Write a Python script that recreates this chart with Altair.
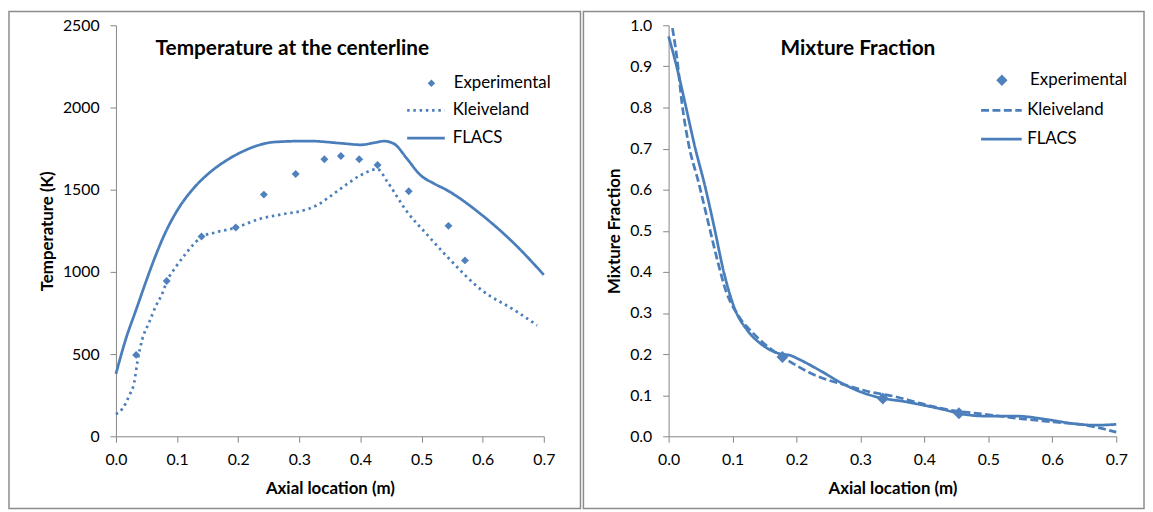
import altair as alt
import pandas as pd

# ---------------- data: left panel (temperature) ----------------
exp_T_x = [0.033, 0.083, 0.140, 0.196, 0.242, 0.294, 0.341, 0.368, 0.398, 0.428, 0.479, 0.544, 0.571]
exp_T_y = [495, 945, 1215, 1270, 1470, 1595, 1685, 1705, 1685, 1650, 1490, 1280, 1070]

kle_T_x = [0.0, 0.011, 0.022, 0.030, 0.035, 0.043, 0.054, 0.065, 0.076, 0.083, 0.098, 0.114,
           0.130, 0.141, 0.163, 0.197, 0.233, 0.271, 0.309, 0.331, 0.347, 0.369, 0.401, 0.428,
           0.444, 0.476, 0.509, 0.541, 0.598, 0.653, 0.689]
kle_T_y = [134, 170, 250, 330, 450, 590, 690, 790, 870, 940, 1030, 1110,
           1180, 1214, 1240, 1270, 1320, 1350, 1376, 1410, 1450, 1510, 1589, 1625,
           1548, 1367, 1227, 1096, 890, 765, 675]

flacs_T_x = [0.0, 0.016, 0.033, 0.049, 0.065, 0.081, 0.103, 0.125, 0.152, 0.179, 0.206, 0.233,
             0.260, 0.315, 0.369, 0.401, 0.422, 0.439, 0.455, 0.476, 0.498, 0.520, 0.541, 0.598,
             0.653, 0.700]
flacs_T_y = [380, 590, 770, 940, 1100, 1240, 1390, 1500, 1600, 1674, 1730, 1770,
             1790, 1796, 1782, 1773, 1785, 1795, 1779, 1689, 1589, 1538, 1498, 1348,
             1167, 982]

# ---------------- data: right panel (mixture fraction) ----------------
exp_F_x = [0.178, 0.335, 0.454]
exp_F_y = [0.193, 0.092, 0.056]

kle_F_x = [0.006, 0.013, 0.021, 0.031, 0.047, 0.062, 0.077, 0.090, 0.108, 0.134, 0.160, 0.178,
           0.200, 0.220, 0.240, 0.276, 0.312, 0.353, 0.394, 0.436, 0.498, 0.549, 0.601, 0.653, 0.700]
kle_F_y = [0.993, 0.921, 0.809, 0.713, 0.617, 0.520, 0.424, 0.352, 0.296, 0.248, 0.212, 0.193,
           0.172, 0.155, 0.142, 0.125, 0.109, 0.097, 0.080, 0.065, 0.053, 0.043, 0.035, 0.027, 0.010]

flacs_F_x = [0.0, 0.013, 0.026, 0.041, 0.057, 0.072, 0.085, 0.093, 0.103, 0.124, 0.145, 0.176,
             0.190, 0.203, 0.240, 0.271, 0.302, 0.333, 0.367, 0.394, 0.430, 0.456, 0.498, 0.544,
             0.591, 0.632, 0.667, 0.700]
flacs_F_y = [0.973, 0.897, 0.809, 0.705, 0.608, 0.504, 0.408, 0.360, 0.312, 0.256, 0.224, 0.200,
             0.197, 0.188, 0.157, 0.129, 0.107, 0.093, 0.085, 0.077, 0.065, 0.055, 0.049, 0.049,
             0.041, 0.031, 0.027, 0.029]

x_ticks = [0.0, 0.1, 0.2, 0.3, 0.4, 0.5, 0.6, 0.7]
T_ticks = [0, 500, 1000, 1500, 2000, 2500]
F_ticks = [0.0, 0.1, 0.2, 0.3, 0.4, 0.5, 0.6, 0.7, 0.8, 0.9, 1.0]

LINE = "#4A7EBB"
PT = "#4F81BD"
GRAY = "#868686"
FONT = "Lato"


def panel(exp_x, exp_y, kle_x, kle_y, fl_x, fl_y, y_ticks, y_fmt, y_domain, y_title,
          title, title_dx, width, height, dash, pt_size, leg_pt, leg_line, border):
    lines_df = pd.DataFrame({
        "x": kle_x + fl_x,
        "y": kle_y + fl_y,
        "series": ["Kleiveland"] * len(kle_x) + ["FLACS"] * len(fl_x),
    })
    exp_df = pd.DataFrame({"x": exp_x, "y": exp_y, "series": ["Experimental"] * len(exp_x)})

    xs = alt.Scale(domain=[0, 0.7], nice=False, zero=False)
    ys = alt.Scale(domain=y_domain, nice=False)
    xax = alt.Axis(values=x_ticks, format=".1f", title="Axial location (m)",
                   labelPadding=9, titlePadding=14, labelFlush=False)
    yax = alt.Axis(values=y_ticks, format=y_fmt, title=y_title,
                   labelPadding=11, titlePadding=6, labelFlush=False)

    bdf = pd.DataFrame({"k": [0]})
    frame = alt.Chart(bdf).mark_rect(fill="transparent", stroke="#8C8C8C", strokeWidth=1.5).encode(
        x=alt.value(border[0]), x2=alt.value(border[1]),
        y=alt.value(border[2]), y2=alt.value(border[3]))

    lines = alt.Chart(lines_df).mark_line(color=LINE, strokeWidth=2.75, interpolate="monotone").encode(
        x=alt.X("x:Q", scale=xs, axis=xax),
        y=alt.Y("y:Q", scale=ys, axis=yax),
        strokeDash=alt.StrokeDash(
            "series:N",
            scale=alt.Scale(domain=["Kleiveland", "FLACS"], range=[dash, [1, 0]]),
            legend=alt.Legend(title=None, orient="none", legendX=leg_line[0], legendY=leg_line[1],
                              symbolType="M-2,0L2,0", symbolSize=leg_line[2],
                              symbolStrokeWidth=2.75, symbolStrokeColor=LINE,
                              labelOffset=leg_line[3], rowPadding=9, padding=0),
        ),
    )

    pts = alt.Chart(exp_df).mark_point(filled=True, color=PT, size=pt_size, opacity=1,
                                       strokeWidth=0).encode(
        x=alt.X("x:Q", scale=xs),
        y=alt.Y("y:Q", scale=ys),
        shape=alt.Shape(
            "series:N",
            scale=alt.Scale(domain=["Experimental"], range=["diamond"]),
            legend=alt.Legend(title=None, orient="none", legendX=leg_pt[0], legendY=leg_pt[1],
                              symbolSize=leg_pt[2], symbolFillColor=PT, symbolStrokeWidth=0,
                              labelOffset=leg_pt[3], padding=0),
        ),
    )

    return alt.layer(frame, lines, pts).properties(
        width=width, height=height,
        title=alt.TitleParams(text=title, anchor="start", frame="group", dx=title_dx, dy=49,
                              offset=0, baseline="top", font=FONT, fontSize=21,
                              fontWeight="bold", color="black"),
    )


left = panel(exp_T_x, exp_T_y, kle_T_x, kle_T_y, flacs_T_x, flacs_T_y, T_ticks, "d", [0, 2500],
             "Temperature (K)", "Temperature at the centerline", 40, 432, 415,
             [2.5, 3.8], 64, (310, 50, 56, 14), (302, 75, 361, 16), (-108, 469, -14, 488))

right = panel(exp_F_x, exp_F_y, kle_F_x, kle_F_y, flacs_F_x, flacs_F_y, F_ticks, ".1f", [0, 1],
              "Mixture Fraction", "Mixture Fraction", 113, 452, 415,
              [8, 3.5], 144, (328, 47, 130, 20), (324, 74, 420, 14), (-86, 480, -14, 488))

chart = alt.hconcat(left, right, spacing=1).resolve_scale(
    strokeDash="independent", shape="independent"
).resolve_legend(
    strokeDash="independent", shape="independent"
).properties(
    padding=0, background="white"
).configure_view(
    strokeWidth=0
).configure_axis(
    grid=False, domainColor=GRAY, tickColor=GRAY, domainWidth=1, tickWidth=1, tickSize=6,
    labelFont=FONT, labelFontSize=16, labelColor="black",
    titleFont=FONT, titleFontSize=17, titleFontWeight="bold", titleColor="black",
).configure_legend(
    labelFont=FONT, labelFontSize=17, labelColor="black"
)

chart.save("out.html", embed_options={"renderer": "svg", "actions": False})
